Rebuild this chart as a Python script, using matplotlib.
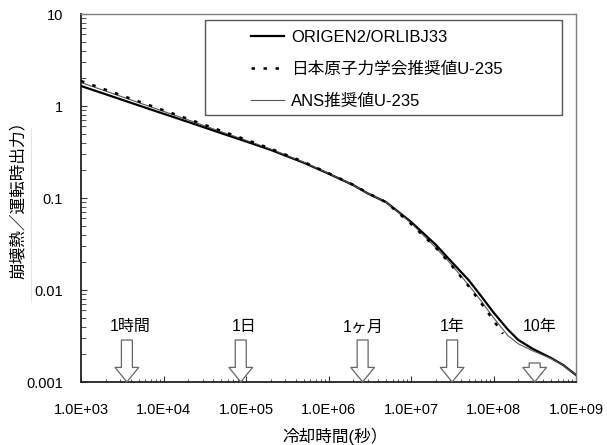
import numpy as np
import matplotlib
matplotlib.use("Agg")
import matplotlib.pyplot as plt
from matplotlib.lines import Line2D
from matplotlib.patches import Rectangle

plt.rcParams['font.family'] = ['Liberation Sans', 'Noto Sans CJK JP', 'DejaVu Sans']

# cooling time (s) and decay heat ratio
t_origen = [1e3, 2e3, 5e3, 1e4, 2e4, 5e4, 1e5, 2e5, 5e5, 1e6, 2e6, 3e6, 5e6,
            1e7, 2e7, 3e7, 5e7, 7e7, 1e8, 1.5e8, 2e8, 3e8, 5e8, 7e8, 1e9]
p_origen = [1.65, 1.34, 1.015, 0.824, 0.670, 0.507, 0.412, 0.333, 0.242, 0.184, 0.138, 0.112, 0.090,
            0.055, 0.031, 0.0209, 0.0128, 0.0087, 0.0057, 0.0037, 0.00286, 0.00229, 0.00182, 0.00153, 0.00119]

t_aesj = [1e3, 2e3, 5e3, 1e4, 2e4, 5e4, 1e5, 2e5, 5e5, 1e6, 2e6, 3e6, 5e6,
          1e7, 2e7, 3e7, 5e7, 7e7, 1e8, 1.3e8]
p_aesj = [1.87, 1.50, 1.12, 0.90, 0.722, 0.537, 0.431, 0.343, 0.247, 0.186, 0.139, 0.113, 0.090,
          0.0523, 0.0288, 0.0192, 0.0110, 0.0073, 0.00467, 0.00335]

t_ans = [1e3, 2e3, 5e3, 1e4, 2e4, 5e4, 1e5, 2e5, 5e5, 1e6, 2e6, 3e6, 5e6,
         1e7, 2e7, 3e7, 5e7, 7e7, 1e8, 1.5e8, 2e8, 3e8, 5e8, 7e8, 1e9]
p_ans = [1.80, 1.451, 1.089, 0.875, 0.704, 0.526, 0.424, 0.340, 0.245, 0.185, 0.138, 0.112, 0.090,
         0.0536, 0.0288, 0.0195, 0.0113, 0.0077, 0.0050, 0.00318, 0.0026, 0.00218, 0.0018, 0.00153, 0.00119]

# time markers
mark_t = [3600, 86400, 2.592e6, 3.1536e7, 3.1536e8]
mark_label = ["1時間", "1日", "1ヶ月", "1年", "10年"]
mark_top = [0.00286, 0.00286, 0.00286, 0.00286, 0.00161]
mark_text_x = [3.9e3, 9.5e4, 2.65e6, 3.15e7, 3.6e8]

fig = plt.figure(figsize=(6.07, 4.45), dpi=100)
ax = fig.add_axes([81/607, 1-382/445, 495/607, 368/445])

ax.plot(t_origen, p_origen, color="black", lw=1.6, label="ORIGEN2/ORLIBJ33", zorder=3)
ax.plot(t_aesj, p_aesj, color="black", lw=1.8, ls=(0, (1.4, 3.4)), dash_capstyle="butt",
        label="日本原子力学会推奨値U-235", zorder=4)
ax.plot(t_ans, p_ans, color="#555555", lw=0.8, label="ANS推奨値U-235", zorder=3)

ax.set_xscale("log")
ax.set_yscale("log")
ax.set_xlim(1e3, 1e9)
ax.set_ylim(1e-3, 10)

ax.set_xticks([1e3, 1e4, 1e5, 1e6, 1e7, 1e8, 1e9])
ax.set_xticklabels(["1.0E+03", "1.0E+04", "1.0E+05", "1.0E+06",
                    "1.0E+07", "1.0E+08", "1.0E+09"])
ax.set_yticks([1e-3, 1e-2, 1e-1, 1, 10])
ax.set_yticklabels(["0.001", "0.01", "0.1", "1", "10"])

ax.tick_params(which="both", direction="in", labelsize=10.5, color="#333333")
ax.tick_params(axis="x", which="major", length=4.5, pad=15)
ax.tick_params(axis="x", which="minor", length=2.5)
ax.tick_params(axis="y", which="major", length=4.5, pad=13)
ax.tick_params(axis="y", which="minor", length=3.5)

for side in ["top", "right"]:
    ax.spines[side].set_color("#808080")
    ax.spines[side].set_linewidth(1.0)
for side in ["left", "bottom"]:
    ax.spines[side].set_color("#222222")
    ax.spines[side].set_linewidth(1.3)

ax.set_xlabel("冷却時間(秒）", fontsize=12)
ax.xaxis.set_label_coords(0.513, -0.149)
ax.xaxis.label.set_verticalalignment("center")
ax.set_ylabel("崩壊熱／運転時出力）", fontsize=12)
ax.yaxis.set_label_coords(-0.127, 0.505)
ax.yaxis.label.set_verticalalignment("center")

# hollow arrows pointing at the time axis
for t, top, lab, tx in zip(mark_t, mark_top, mark_label, mark_text_x):
    ax.annotate("", xy=(t, 0.001), xytext=(t, top),
                arrowprops=dict(arrowstyle="simple,head_length=10.5,head_width=17,tail_width=7.9",
                                mutation_scale=1, fc="white", ec="#666666", lw=0.9,
                                shrinkA=0, shrinkB=0), zorder=5)
    ax.text(tx, 0.0040, lab, fontsize=11.5, ha="center", va="center", zorder=5)

# legend with a wide left margin inside its box
ax.add_patch(Rectangle(((205-81)/495, (382-115)/368), 357/495, 95/368,
                       transform=ax.transAxes, fc="white", ec="#555555", lw=1.0, zorder=6))
leg = ax.legend(loc="upper left", bbox_to_anchor=((251-81)/495, (382-30)/368),
                frameon=False, fontsize=12, handlelength=2.0, handletextpad=0.4,
                labelspacing=1.0, borderaxespad=0, borderpad=0)
leg.set_zorder(7)

fig.add_artist(Line2D([31/607, 31/607], [1-128/445, 1-302/445], color="#e6e6e6", lw=0.8))

fig.savefig("out.png", dpi=100)
